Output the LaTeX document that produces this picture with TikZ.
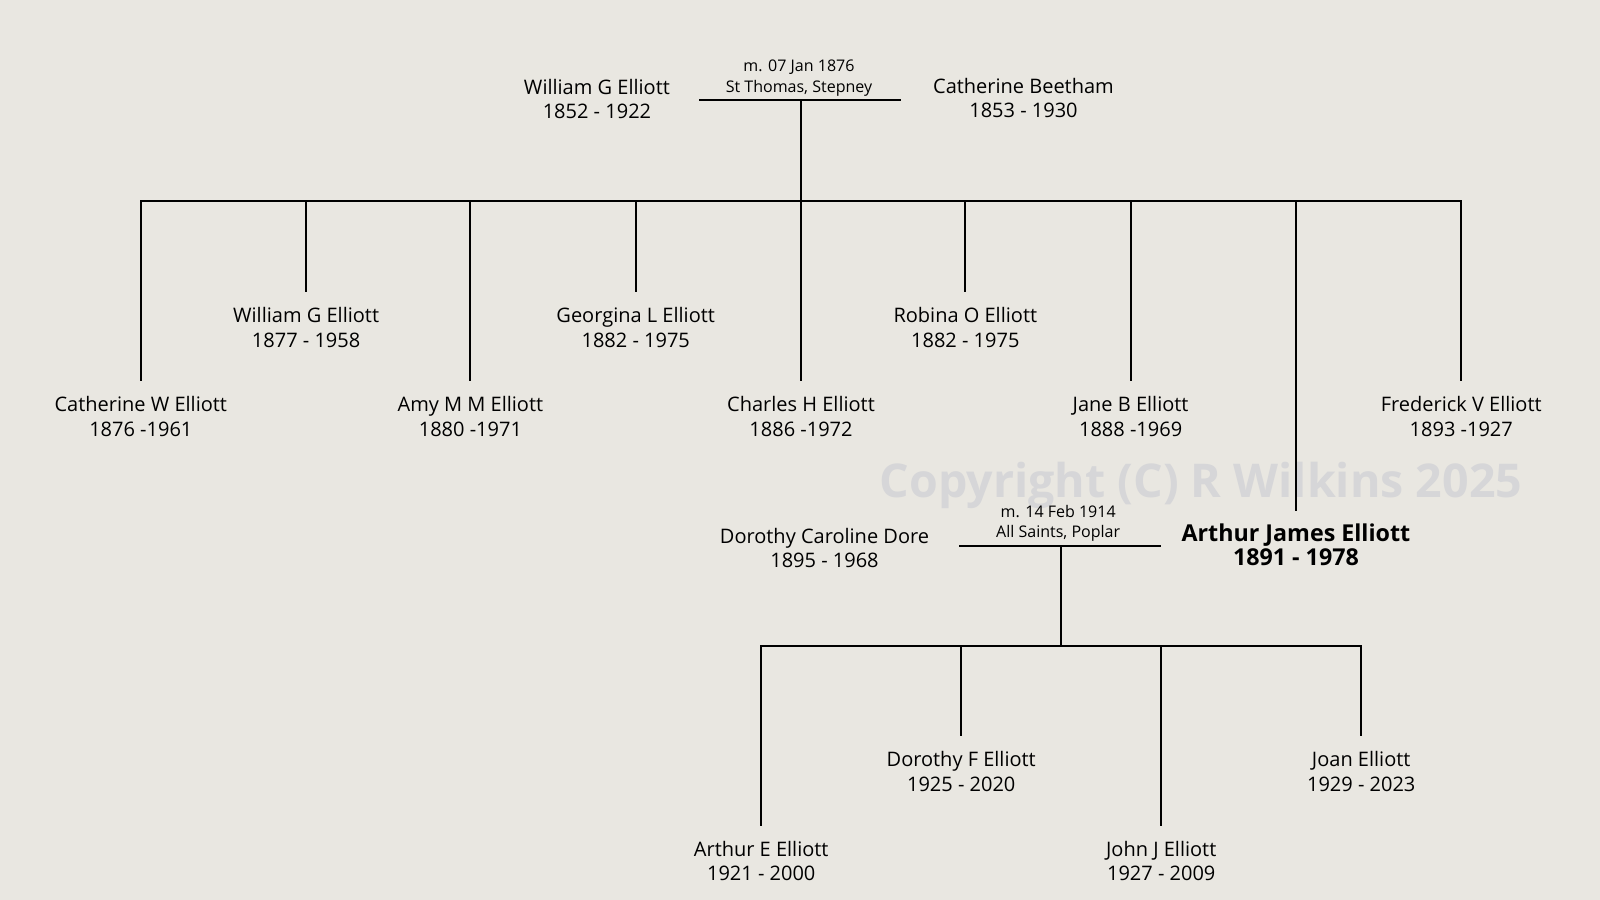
\documentclass[tikz,border=0pt]{standalone}
\usepackage{fontspec}
\setmainfont{Open Sans}
\usepackage{tikz}
\definecolor{PaperColor}{HTML}{E9E7E1}
\definecolor{MarkColor}{HTML}{D6D6D8}

\begin{document}
\begin{tikzpicture}[x=0.5pt,y=-0.5pt]
  \tikzset{PersonStyle/.style = {
    align         = center,
    text          = black,
    font          = \fontsize{9.8}{12.2}\selectfont,
    inner sep     = 3pt,
    outer sep     = 5pt
    }
  }
  \tikzset{ChildStyle/.style = {
    PersonStyle,
    anchor        = north
    }
  }
  \tikzset{MarriageStyle/.style = {
    align         = center,
    text          = black,
    font          = \fontsize{7.85}{10}\selectfont,
    inner sep     = 1pt,
    outer sep     = 1pt,
    anchor        = south
    }
  }
  \tikzset{LineStyle/.style = {
    draw          = black,
    line width    = 1pt,
    line cap      = rect
    }
  }

  \fill[PaperColor] (0,0) rectangle (1568,882);
  \useasboundingbox (0,0) rectangle (1568,882);

	\node[text=MarkColor, font=\fontsize{22.8}{28}\selectfont\bfseries](W) at (1177, 476) {Copyright (C) R Wilkins 2025};

	\node[PersonStyle](A1) at (585, 97) {William G Elliott\\1852 - 1922};
	\node[PersonStyle](A2) at (1003, 96) {Catherine Beetham\\1853 - 1930};
	\coordinate (M1L) at (686, 98);
	\coordinate (M1R) at (882, 98);
	\coordinate (M1C) at (785, 98);
	\node[MarriageStyle](M1) at (783, 98) {m. 07 Jan 1876\\St Thomas, Stepney};
	\coordinate (S1L) at (138, 197);
	\coordinate (S1R) at (1432, 197);
	\coordinate (S1C) at (785, 197);

	\node[ChildStyle](B1) at (138, 372) {Catherine W Elliott\\1876 -1961};
	\node[ChildStyle](B2) at (300, 285) {William G Elliott\\1877 - 1958};
	\node[ChildStyle](B3) at (461, 372) {Amy M M Elliott\\1880 -1971};
	\node[ChildStyle](B4) at (623, 285) {Georgina L Elliott\\1882 - 1975};
	\node[ChildStyle](B5) at (785, 372) {Charles H Elliott\\1886 -1972};
	\node[ChildStyle](B6) at (946, 285) {Robina O Elliott\\1882 - 1975};
	\node[ChildStyle](B7) at (1108, 372) {Jane B Elliott\\1888 -1969};
	\node[ChildStyle, outer sep=3.5pt, font=\fontsize{11.4}{12}\selectfont\bfseries](B8) at (1270, 500) {Arthur James Elliott\\1891 - 1978};
	\node[ChildStyle](B9) at (1432, 372) {Frederick V Elliott\\1893 -1927};

	\node[PersonStyle](C1) at (808, 537) {Dorothy Caroline Dore\\1895 - 1968};
	\coordinate (M2L) at (941, 535);
	\coordinate (M2R) at (1137, 535);
	\coordinate (M2C) at (1040, 535);
	\node[MarriageStyle](M2) at (1037, 535) {m. 14 Feb 1914\\All Saints, Poplar};
	\coordinate (S2L) at (746, 633);
	\coordinate (S2R) at (1334, 633);
	\coordinate (S2C) at (1040, 633);

	\node[ChildStyle](D1) at (746, 808) {Arthur E Elliott\\1921 - 2000};
	\node[ChildStyle](D2) at (942, 720) {Dorothy F Elliott\\1925 - 2020};
	\node[ChildStyle](D3) at (1138, 808) {John J Elliott\\1927 - 2009};
	\node[ChildStyle](D4) at (1334, 720) {Joan Elliott\\1929 - 2023};

	\draw[LineStyle](M1L) -- (M1R);
	\draw[LineStyle](M1C) -- (S1C);
	\draw[LineStyle](S1L) -- (S1R);
	\draw[LineStyle](S1L) -- (B1.north);
	\draw[LineStyle](S1L -| B2.north) -- (B2.north);
	\draw[LineStyle](S1L -| B3.north) -- (B3.north);
	\draw[LineStyle](S1L -| B4.north) -- (B4.north);
	\draw[LineStyle](S1C) -- (B5.north);
	\draw[LineStyle](S1L -| B6.north) -- (B6.north);
	\draw[LineStyle](S1L -| B7.north) -- (B7.north);
	\draw[LineStyle](S1L -| B8.north) -- (B8.north);
	\draw[LineStyle](S1R) -- (B9.north);

	\draw[LineStyle](M2L) -- (M2R);
	\draw[LineStyle](M2C) -- (S2C);
	\draw[LineStyle](S2L) -- (S2R);
	\draw[LineStyle](S2L) -- (D1.north);
	\draw[LineStyle](S2L -| D2.north) -- (D2.north);
	\draw[LineStyle](S2L -| D3.north) -- (D3.north);
	\draw[LineStyle](S2R) -- (D4.north);

  \end{tikzpicture}
\end{document}
